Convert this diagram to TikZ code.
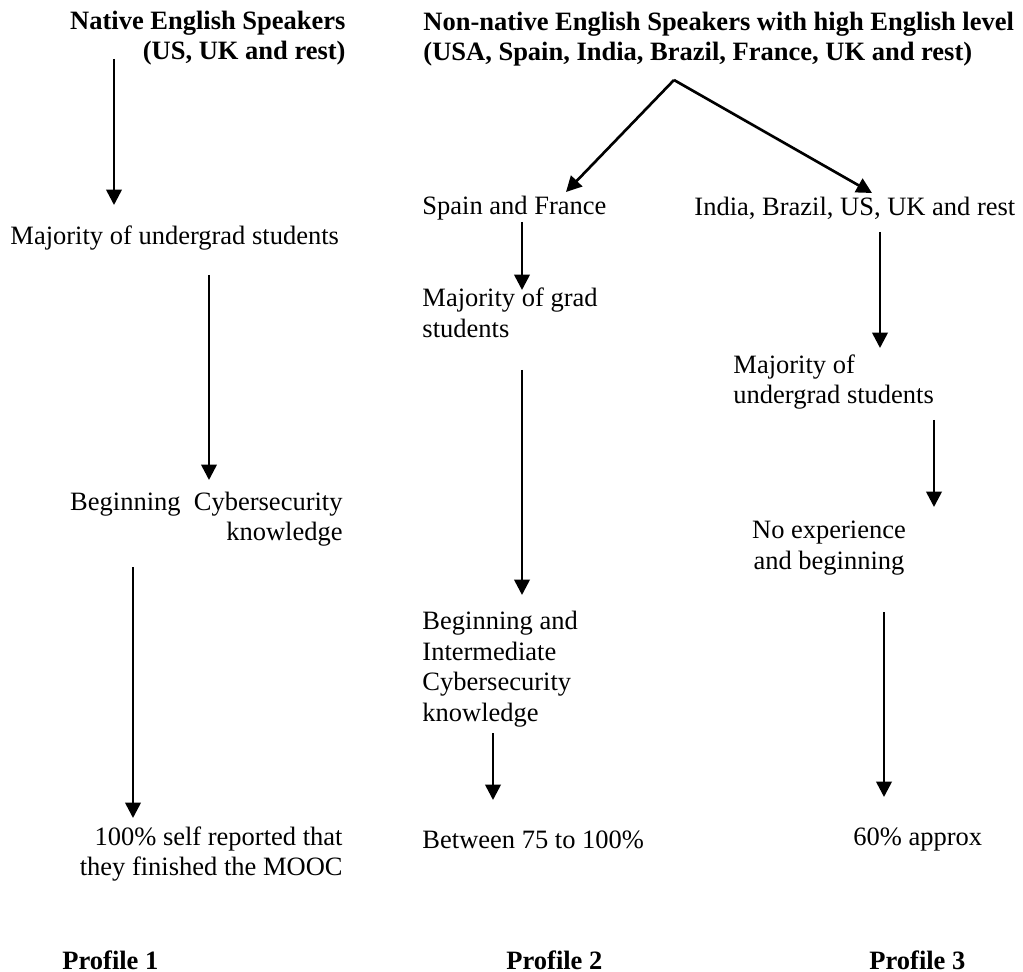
\documentclass[tikz,border=0pt]{standalone}
\usepackage{fontspec}
\setmainfont{Liberation Serif}
\usepackage{tikz}
\usetikzlibrary{arrows.meta}

\begin{document}
\begin{tikzpicture}[x=0.4528pt,y=-0.4528pt,
    txt/.style={inner sep=0pt,font=\fontsize{12}{13.8}\selectfont},
    head/.style={inner sep=0pt,font=\fontsize{12}{13.8}\selectfont\bfseries},
    arr/.style={line width=1.2pt,-{Triangle[length=7pt,width=7pt]}}]
    \useasboundingbox (0,0) rectangle (1023,972);
    % group headers
    \node[head,anchor=east,align=right] (native) at (346,38) {Native English Speakers\\(US, UK and rest)};
    \node[head,anchor=west,align=left] (nonnative) at (423,39) {Non-native English Speakers with high English level\\(USA, Spain, India, Brazil, France, UK and rest)};
    % profile 1
    \node[txt,anchor=west] (undergradA) at (10,238) {Majority of undergrad students};
    \node[txt,anchor=east,align=right] (beginA) at (343,519) {Beginning~ Cybersecurity\\knowledge};
    \node[txt,anchor=east,align=right] (finishA) at (343,854) {100\% self reported that\\they finished the MOOC};
    % profile 2
    \node[txt,anchor=west] (spainfr) at (422,208) {Spain and France};
    \node[txt,anchor=west,align=left] (grad) at (422,313) {Majority of grad\\students};
    \node[txt,anchor=west,align=left] (beginB) at (422,669) {Beginning and\\Intermediate\\Cybersecurity\\knowledge};
    \node[txt,anchor=west] (finishB) at (422,840) {Between 75 to 100\%};
    % profile 3
    \node[txt,anchor=west] (others) at (694,208) {India, Brazil, US, UK and rest};
    \node[txt,anchor=west,align=left] (undergradC) at (733,382) {Majority of\\undergrad students};
    \node[txt,align=center] (beginC) at (829,548) {No experience\\and beginning};
    \node[txt,anchor=west] (finishC) at (853,840) {60\% approx};
    % profile names
    \node[head,anchor=west] (profA) at (62,960) {Profile 1};
    \node[head,anchor=west] (profB) at (506,960) {Profile 2};
    \node[head,anchor=west] (profC) at (869,960) {Profile 3};
    % split of the non-native group
    \coordinate (split) at (674,80);
    \coordinate (toSpain) at (566,192);
    \coordinate (toOthers) at (872,193);
    \draw[arr] (split) -- (toSpain);
    \draw[arr] (split) -- (toOthers);
    % vertical arrows: name/x/top/tip
    \foreach \n/\x/\ya/\yb in {a/114/59/205, b/209/275/480, c/133/567/818,
                               d/522/222/290, e/522/370/595, f/493/733/800,
                               g/880/232/348, h/934/420/507, i/884/612/797}
    {
        \coordinate (s\n) at (\x,\ya);
        \coordinate (e\n) at (\x,\yb);
        \draw[arr] (s\n) -- (e\n);
    }
\end{tikzpicture}
\end{document}
